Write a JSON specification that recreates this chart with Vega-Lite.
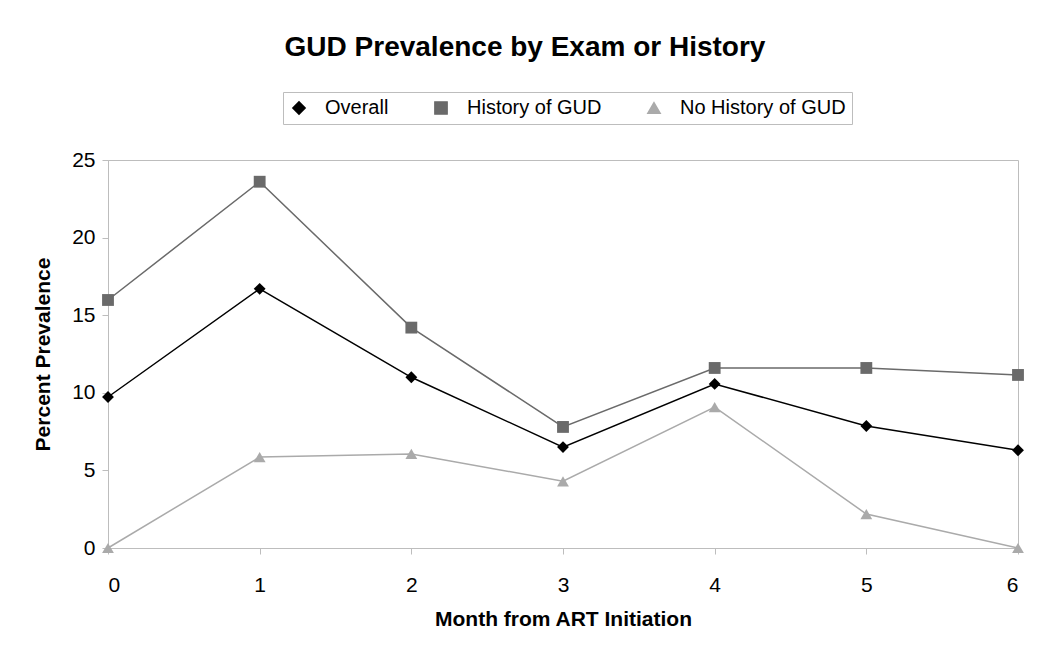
{
  "$schema": "https://vega.github.io/schema/vega-lite/v6.json",
  "width": 910,
  "height": 388,
  "autosize": {"type": "none"},
  "padding": {"left": 108, "top": 160, "right": 32, "bottom": 111},
  "background": "white",
  "title": {
    "text": "GUD Prevalence by Exam or History",
    "font": "Liberation Sans",
    "fontSize": 28,
    "fontWeight": "bold",
    "color": "black",
    "anchor": "middle",
    "dx": -38,
    "offset": 30
  },
  "data": {
    "values": [
      {"month": 0, "series": "Overall", "value": 9.73},
      {"month": 1, "series": "Overall", "value": 16.7},
      {"month": 2, "series": "Overall", "value": 11.0},
      {"month": 3, "series": "Overall", "value": 6.5},
      {"month": 4, "series": "Overall", "value": 10.57},
      {"month": 5, "series": "Overall", "value": 7.86},
      {"month": 6, "series": "Overall", "value": 6.3},
      {"month": 0, "series": "History of GUD", "value": 15.98},
      {"month": 1, "series": "History of GUD", "value": 23.6},
      {"month": 2, "series": "History of GUD", "value": 14.2},
      {"month": 3, "series": "History of GUD", "value": 7.8},
      {"month": 4, "series": "History of GUD", "value": 11.6},
      {"month": 5, "series": "History of GUD", "value": 11.6},
      {"month": 6, "series": "History of GUD", "value": 11.15},
      {"month": 0, "series": "No History of GUD", "value": 0},
      {"month": 1, "series": "No History of GUD", "value": 5.86},
      {"month": 2, "series": "No History of GUD", "value": 6.06},
      {"month": 3, "series": "No History of GUD", "value": 4.3},
      {"month": 4, "series": "No History of GUD", "value": 9.08},
      {"month": 5, "series": "No History of GUD", "value": 2.19},
      {"month": 6, "series": "No History of GUD", "value": 0}
    ]
  },
  "encoding": {
    "x": {
      "field": "month",
      "type": "quantitative",
      "scale": {"domain": [0, 6], "nice": false},
      "axis": {
        "title": "Month from ART Initiation",
        "values": [0, 1, 2, 3, 4, 5, 6],
        "format": "d",
        "grid": false,
        "labelPadding": 20,
        "titlePadding": 13
      }
    },
    "y": {
      "field": "value",
      "type": "quantitative",
      "scale": {"domain": [0, 25], "nice": false},
      "axis": {
        "title": "Percent Prevalence",
        "values": [0, 5, 10, 15, 20, 25],
        "grid": false,
        "labelPadding": 7,
        "titlePadding": 18
      }
    },
    "color": {
      "field": "series",
      "type": "nominal",
      "scale": {
        "domain": ["Overall", "History of GUD", "No History of GUD"],
        "range": ["#000000", "#6a6a6a", "#aaaaaa"]
      },
      "legend": {
        "title": null,
        "orient": "none",
        "legendX": 175,
        "legendY": -68,
        "direction": "horizontal"
      }
    }
  },
  "layer": [
    {
      "mark": {"type": "line", "strokeWidth": 1.5},
      "encoding": {}
    },
    {
      "mark": {"type": "point", "filled": true, "opacity": 1, "size": 140},
      "encoding": {
        "shape": {
          "field": "series",
          "type": "nominal",
          "scale": {
            "domain": ["Overall", "History of GUD", "No History of GUD"],
            "range": ["diamond", "square", "triangle-up"]
          },
          "legend": {
            "title": null,
            "orient": "none",
            "legendX": 175,
            "legendY": -68,
            "direction": "horizontal"
          }
        }
      }
    }
  ],
  "config": {
    "font": "Liberation Sans",
    "view": {"stroke": "#bdbdbd", "strokeWidth": 1},
    "axis": {
      "labelFont": "Liberation Sans",
      "labelFontSize": 21,
      "labelColor": "black",
      "titleFont": "Liberation Sans",
      "titleFontSize": 21,
      "titleFontWeight": "bold",
      "titleColor": "black",
      "domainColor": "#bdbdbd",
      "tickColor": "#bdbdbd",
      "tickSize": 6
    },
    "legend": {
      "labelFont": "Liberation Sans",
      "labelFontSize": 20,
      "labelColor": "black",
      "labelLimit": 400,
      "strokeColor": "#bdbdbd",
      "padding": 6,
      "symbolSize": 150,
      "symbolOpacity": 1,
      "labelOffset": 16,
      "columnPadding": 42
    }
  }
}
